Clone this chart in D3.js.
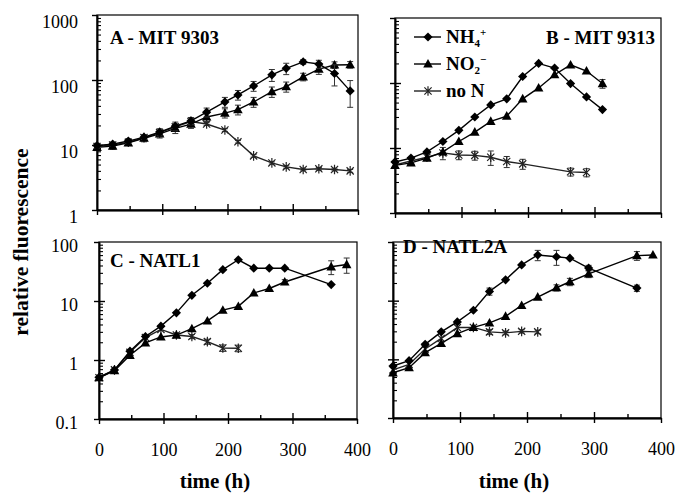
<!DOCTYPE html>
<html>
<head>
<meta charset="utf-8">
<script src="https://cdn.jsdelivr.net/npm/d3@7"></script>
<style>
  body { margin: 0; background: #fff; }
  svg { display: block; }
</style>
</head>
<body>
<div id="chart"></div>
<script>
// A - MIT 9303
const timeA = [0, 24, 48, 72, 96, 120, 144, 168, 196, 216, 240, 268, 290, 316, 340, 364, 388];
const nh4A = [9.8, 10.3, 11.5, 13.2, 15.8, 19.5, 23.5, 32, 46, 59, 81, 120, 151, 190, 176, 126, 68];
const nh4ErrA = [0.8, 0.8, 1, 1, 2, 3, 3, 5, 8, 10, 14, 25, 30, 15, 25, 45, 30];
const no2A = [9.2, 9.6, 10.8, 12.7, 14.8, 18, 21, 27, 31, 35, 46, 66, 79, 112, 147, 170, 172];
const no2ErrA = [1, 1, 1, 1.5, 2, 3, 3, 4, 5, 6, 8, 12, 14, 15, 25, 20, 20];
const nonA = [9.5, 10, 11, 13, 15.5, 19, 23, 21, 17, 11.2, 6.8, 5.3, 4.6, 4.2, 4.3, 4.2, 4.0];
const nonErrA = [0, 0, 0, 0, 0, 0, 1, 1, 0.8, 0.5, 0.3, 0.2, 0.2, 0.2, 0.2, 0.2, 0.2];

// B - MIT 9313
const timeB = [0, 24, 48, 72, 96, 120, 144, 168, 192, 216, 240, 264, 288, 312];
const nh4B = [6.1, 7.0, 8.7, 12.6, 18.7, 30, 46, 57, 126, 200, 170, 98, 61, 39];
const nh4ErrB = [0, 0, 0, 0, 0, 0, 0, 0, 0, 0, 0, 0, 0, 0];
const no2B = [5.4, 5.9, 7.0, 8.7, 12.6, 17.6, 25.7, 31, 57, 84, 134, 190, 153, 98];
const no2ErrB = [0, 0, 0, 0, 0, 0, 0, 0, 0, 0, 0, 0, 0, 15];
const timeNonB = [0, 24, 48, 72, 96, 120, 144, 168, 192, 264, 288];
const nonB = [5.5, 6.3, 7.2, 8.4, 7.8, 7.7, 7.2, 6.2, 5.7, 4.3, 4.2];
const nonErrB = [0, 0, 0, 1.8, 1.2, 1.2, 1.8, 1.2, 1.0, 0.6, 0.6];

// C - NATL1
const timeC = [0, 24, 48, 72, 96, 120, 144, 168, 192, 216, 240, 264, 288, 360];
const nh4C = [0.51, 0.68, 1.41, 2.5, 3.75, 6.3, 12.5, 20, 34, 50, 36, 36, 36, 19];
const nh4ErrC = [0, 0, 0, 0, 0, 0, 0, 0, 0, 0, 0, 0, 0, 0];
const timeNo2C = [0, 24, 48, 72, 96, 120, 144, 168, 192, 216, 240, 264, 288, 360, 384];
const no2C = [0.5, 0.66, 1.2, 1.95, 2.46, 2.65, 3.4, 4.6, 7.0, 8.1, 13.7, 16.3, 21, 38, 41.5];
const no2ErrC = [0, 0, 0, 0, 0, 0, 0, 0, 0, 0, 0, 0, 2, 10, 12];
const timeNonC = [0, 24, 48, 72, 96, 120, 144, 168, 192, 216];
const nonC = [0.5, 0.68, 1.35, 2.4, 3.3, 2.65, 2.5, 2.05, 1.6, 1.58];
const nonErrC = [0, 0, 0, 0, 0, 0.2, 0.2, 0.2, 0.2, 0.2];

// D - NATL2A
const timeD = [0, 24, 48, 72, 96, 120, 144, 168, 192, 216, 244, 264, 292, 364];
const nh4D = [0.77, 0.95, 1.8, 2.94, 4.35, 6.86, 14.4, 22.7, 40.7, 60, 56, 53, 36, 16.4];
const nh4ErrD = [0, 0, 0, 0, 0, 0, 2, 0, 0, 12, 16, 0, 4, 2];
const timeNo2D = [0, 24, 48, 72, 96, 120, 144, 168, 192, 216, 244, 264, 292, 364, 388];
const no2D = [0.59, 0.72, 1.3, 1.87, 2.75, 3.5, 4.17, 5.4, 8.3, 11.5, 16.6, 21, 28.7, 58.6, 60];
const no2ErrD = [0, 0, 0, 0, 0, 0, 0, 0, 0, 0, 2, 3, 4, 10, 0];
const timeNonD = [0, 24, 48, 72, 96, 120, 144, 168, 192, 216];
const nonD = [0.66, 0.82, 1.5, 2.27, 3.48, 3.5, 2.94, 2.83, 3.0, 2.94];
const nonErrD = [0, 0, 0, 0, 0, 0, 0.3, 0.2, 0.2, 0.2];

const xTicksMajor = [0, 100, 200, 300, 400];
const xTicksMinor = [50, 150, 250, 350];
const legendLabels = ["NH4+", "NO2-", "no N"];

const serif = "'Liberation Serif', 'Times New Roman', serif";

const svg = d3.select("#chart").append("svg")
    .attr("width", 679)
    .attr("height", 493);

const shapes = {
    diamond: "M0,-4.6L4.6,0L0,4.6L-4.6,0Z",
    triangle: "M0,-5L4.8,3.6L-4.8,3.6Z",
    star: "M-3.6,-3.6L3.6,3.6M-3.6,3.6L3.6,-3.6M0,-4.8V4.8"
};

function decades(dom) {
    const out = [];
    for (let v = dom[0]; v <= dom[1] * 1.0001; v *= 10) out.push(+v.toPrecision(3));
    return out;
}

function minorDecades(dom) {
    const out = [];
    decades(dom).slice(0, -1).forEach(d => {
        for (let k = 2; k <= 9; k++) out.push(+(d * k).toPrecision(3));
    });
    return out;
}

function styleAxis(g) {
    g.selectAll("path, line").attr("stroke", "#000").attr("stroke-width", 1.4);
    g.selectAll("text").attr("font-family", serif).attr("font-size", 18).attr("fill", "#000");
    g.attr("font-family", null).attr("font-size", null);
}

function drawPanel(p) {
    const x = d3.scaleLinear().domain([0, 400]).range([p.x0, p.x1]);
    const y = d3.scaleLog().domain(p.dom).range([p.y1, p.y0]);
    const g = svg.append("g");

    // frame
    g.append("rect")
        .attr("x", p.x0).attr("y", p.y0)
        .attr("width", p.x1 - p.x0).attr("height", p.y1 - p.y0)
        .attr("fill", "none").attr("stroke", "#000").attr("stroke-width", 1.2);

    // y axis: outward major ticks with labels
    const yOut = g.append("g")
        .attr("transform", `translate(${p.x0},0)`)
        .call(d3.axisLeft(y).tickValues(decades(p.dom)).tickSize(5).tickSizeOuter(0)
            .tickPadding(p.yPad)
            .tickFormat(p.yLabels ? d => String(d) : () => ""));
    styleAxis(yOut);
    yOut.selectAll("text").attr("dy", p.yDy);

    // y axis: inward major and minor ticks
    const yIn = g.append("g")
        .attr("transform", `translate(${p.x0},0)`)
        .call(d3.axisLeft(y).tickValues(decades(p.dom).slice(1, -1)).tickSize(-6).tickSizeOuter(0).tickFormat(""));
    styleAxis(yIn);
    const yMin = g.append("g")
        .attr("transform", `translate(${p.x0},0)`)
        .call(d3.axisLeft(y).tickValues(minorDecades(p.dom)).tickSize(-4).tickSizeOuter(0).tickFormat(""));
    styleAxis(yMin);
    yMin.selectAll("line").attr("stroke-width", 1.1);

    // x axis
    const xOut = g.append("g")
        .attr("transform", `translate(0,${p.y1})`)
        .call(d3.axisBottom(x).tickValues(xTicksMajor).tickSize(5).tickSizeOuter(0)
            .tickPadding(19)
            .tickFormat(p.xLabels ? d => String(d) : () => ""));
    styleAxis(xOut);
    const xIn = g.append("g")
        .attr("transform", `translate(0,${p.y1})`)
        .call(d3.axisBottom(x).tickValues(xTicksMajor.slice(1, -1)).tickSize(-6).tickSizeOuter(0).tickFormat(""));
    styleAxis(xIn);
    const xMin = g.append("g")
        .attr("transform", `translate(0,${p.y1})`)
        .call(d3.axisBottom(x).tickValues(xTicksMinor).tickSize(-4).tickSizeOuter(0).tickFormat(""));
    styleAxis(xMin);

    const line = d3.line().x(d => x(d.t)).y(d => y(d.v));

    p.series.forEach(s => {
        const pts = s.t.map((t, i) => ({t, v: s.v[i], e: s.e[i]}));
        g.append("path")
            .datum(pts)
            .attr("d", line)
            .attr("fill", "none")
            .attr("stroke", s.shape === "star" ? "#222" : "#000")
            .attr("stroke-width", 1.4);

        const eb = g.append("g").attr("stroke", "#333").attr("stroke-width", 1).attr("fill", "none");
        pts.filter(d => d.e > 0).forEach(d => {
            const lo = y(Math.max(d.v - d.e, p.dom[0] * 1.01));
            const hi = y(d.v + d.e);
            const cx = x(d.t);
            eb.append("path")
                .attr("d", `M${cx},${lo}V${hi}M${cx - 3},${lo}H${cx + 3}M${cx - 3},${hi}H${cx + 3}`);
        });

        g.append("g").selectAll("path")
            .data(pts)
            .join("path")
            .attr("transform", d => `translate(${x(d.t)},${y(d.v)})`)
            .attr("d", shapes[s.shape])
            .attr("fill", s.shape === "star" ? "none" : "#000")
            .attr("stroke", s.shape === "star" ? "#222" : "none")
            .attr("stroke-width", 1.2);
    });

    g.append("text")
        .attr("x", p.title.x).attr("y", p.title.y)
        .attr("text-anchor", p.title.anchor)
        .attr("font-family", serif).attr("font-weight", "bold").attr("font-size", 19)
        .text(p.title.text);
}

drawPanel({
    x0: 97, x1: 358, y0: 15, y1: 210, dom: [1, 1000],
    yLabels: true, xLabels: false, yPad: 14, yDy: "0.68em",
    title: {text: "A - MIT 9303", x: 110, y: 44, anchor: "start"},
    series: [
        {t: timeA, v: nonA, e: nonErrA, shape: "star"},
        {t: timeA, v: no2A, e: no2ErrA, shape: "triangle"},
        {t: timeA, v: nh4A, e: nh4ErrA, shape: "diamond"}
    ]
});

drawPanel({
    x0: 395, x1: 661, y0: 18, y1: 213, dom: [1, 1000],
    yLabels: false, xLabels: false, yPad: 14, yDy: "0.32em",
    title: {text: "B - MIT 9313", x: 655, y: 44, anchor: "end"},
    series: [
        {t: timeNonB, v: nonB, e: nonErrB, shape: "star"},
        {t: timeB, v: no2B, e: no2ErrB, shape: "triangle"},
        {t: timeB, v: nh4B, e: nh4ErrB, shape: "diamond"}
    ]
});

drawPanel({
    x0: 99, x1: 357, y0: 242, y1: 419, dom: [0.1, 100],
    yLabels: true, xLabels: true, yPad: 16, yDy: "0.5em",
    title: {text: "C - NATL1", x: 110, y: 267, anchor: "start"},
    series: [
        {t: timeNonC, v: nonC, e: nonErrC, shape: "star"},
        {t: timeNo2C, v: no2C, e: no2ErrC, shape: "triangle"},
        {t: timeC, v: nh4C, e: nh4ErrC, shape: "diamond"}
    ]
});

drawPanel({
    x0: 393, x1: 661, y0: 242, y1: 418, dom: [0.1, 100],
    yLabels: false, xLabels: true, yPad: 16, yDy: "0.32em",
    title: {text: "D - NATL2A", x: 403, y: 253, anchor: "start"},
    series: [
        {t: timeNonD, v: nonD, e: nonErrD, shape: "star"},
        {t: timeNo2D, v: no2D, e: no2ErrD, shape: "triangle"},
        {t: timeD, v: nh4D, e: nh4ErrD, shape: "diamond"}
    ]
});

// legend (panel B)
const legendShapes = ["diamond", "triangle", "star"];
const legendY = [37, 64, 91];
const leg = svg.append("g");
legendLabels.forEach((label, i) => {
    const row = leg.append("g").attr("transform", `translate(0,${legendY[i]})`);
    row.append("line").attr("x1", 414).attr("x2", 441).attr("y1", 0).attr("y2", 0)
        .attr("stroke", i === 2 ? "#222" : "#000").attr("stroke-width", 1.4);
    row.append("path").attr("transform", "translate(428,0)")
        .attr("d", shapes[legendShapes[i]])
        .attr("fill", i === 2 ? "none" : "#000")
        .attr("stroke", i === 2 ? "#222" : "none").attr("stroke-width", 1.2);
    const txt = row.append("text").attr("x", 446).attr("y", 6)
        .attr("font-family", serif).attr("font-weight", "bold").attr("font-size", 19);
    if (i === 2) {
        txt.text(label);
    } else {
        txt.append("tspan").text(label.slice(0, 2));
        txt.append("tspan").attr("font-size", 11).attr("dy", 4).text(label[2]);
        txt.append("tspan").attr("font-size", 11).attr("dx", 0).attr("dy", -11).text(label[3] === "-" ? "\u2212" : label[3]);
    }
});

// axis titles
svg.append("text")
    .attr("transform", "translate(28,242) rotate(-90)")
    .attr("text-anchor", "middle")
    .attr("font-family", serif).attr("font-weight", "bold").attr("font-size", 21.5)
    .text("relative fluorescence");

svg.append("text")
    .attr("x", 215).attr("y", 488)
    .attr("text-anchor", "middle")
    .attr("font-family", serif).attr("font-weight", "bold").attr("font-size", 21)
    .text("time (h)");

svg.append("text")
    .attr("x", 514).attr("y", 488)
    .attr("text-anchor", "middle")
    .attr("font-family", serif).attr("font-weight", "bold").attr("font-size", 21)
    .text("time (h)");
</script>
</body>
</html>
